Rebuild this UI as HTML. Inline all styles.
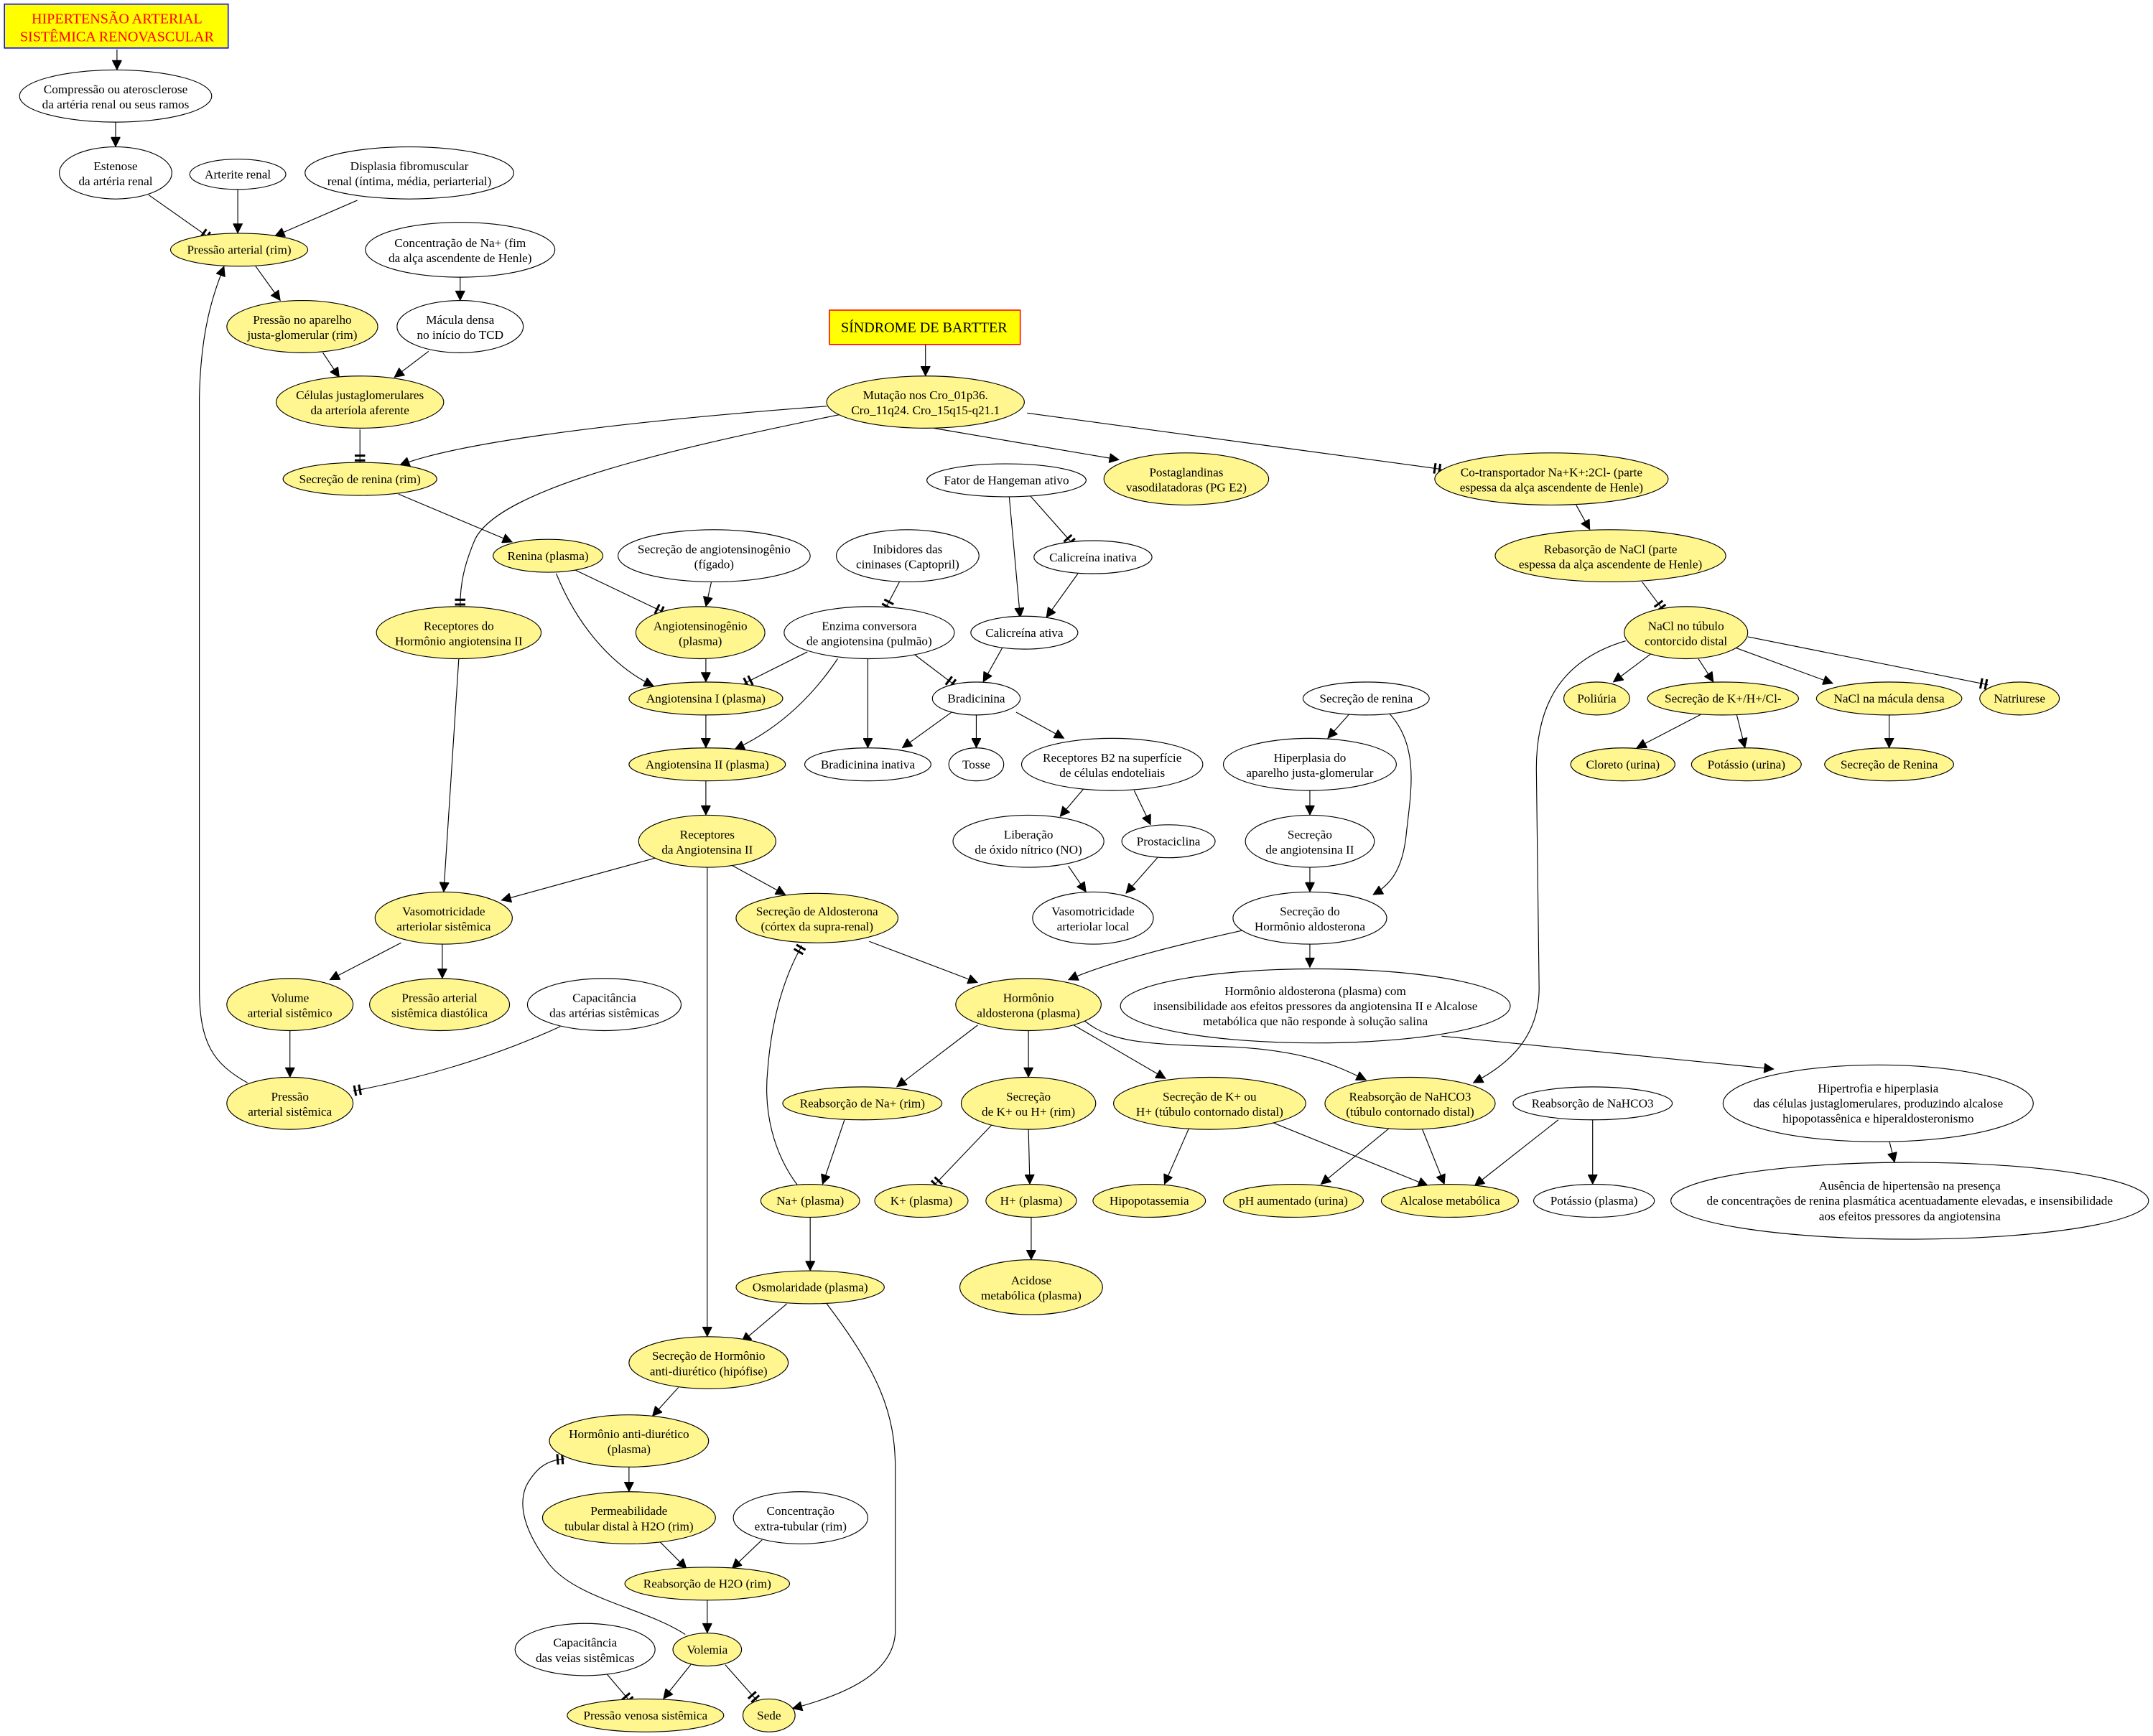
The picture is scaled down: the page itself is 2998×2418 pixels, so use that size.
<!DOCTYPE html>
<html><head><meta charset="utf-8"><style>
html,body{margin:0;padding:0;background:#fff}
svg{display:block}
text{font-family:"Liberation Serif",serif;font-size:9px;fill:#000;text-anchor:middle}
ellipse{stroke:#000;stroke-width:0.6}
.y{fill:#fff68f}.w{fill:#fff}
path{fill:none;stroke:#000;stroke-width:0.6}
</style></head><body>
<svg width="2998" height="2418" viewBox="0 0 1568 1265" xmlns="http://www.w3.org/2000/svg">
<defs>
<marker id="a" markerUnits="userSpaceOnUse" viewBox="0 0 10 10" refX="10" refY="5" markerWidth="9" markerHeight="7" orient="auto"><path d="M0,0 L10,5 L0,10 z" style="fill:#000;stroke:#000;stroke-width:0.5"/></marker>
<marker id="t" markerUnits="userSpaceOnUse" viewBox="-1 -5 8 10" refX="5" refY="0" markerWidth="8" markerHeight="10" orient="auto"><path d="M0,-3.8 L0,3.8 M3.5,-3.8 L3.5,3.8" style="stroke:#000;stroke-width:1.6"/></marker>
</defs>
<rect x="0" y="0" width="1568" height="1265" fill="#fff"/>
<!-- edges -->
<g>
<path marker-end="url(#a)" d="M85,36 L85,51"/>
<path marker-end="url(#a)" d="M84,89 L84,107"/>
<path marker-end="url(#t)" d="M108,142 L152,173"/>
<path marker-end="url(#a)" d="M173,138 L173,170"/>
<path marker-end="url(#a)" d="M260,146 L200,172"/>
<path marker-end="url(#a)" d="M186,194 L204,219"/>
<path marker-end="url(#a)" d="M335,202 L335,219"/>
<path marker-end="url(#a)" d="M235,257 L247,275"/>
<path marker-end="url(#a)" d="M312,256 L287,275"/>
<path marker-end="url(#t)" d="M262,313 L262,337"/>
<path marker-end="url(#a)" d="M290,360 L373,395"/>
<path marker-end="url(#a)" d="M602,296 C480,305 340,320 291,339"/>
<path marker-end="url(#t)" d="M612,302 C500,325 360,355 345,395 C338,412 335,425 335,442"/>
<path marker-end="url(#a)" d="M680,312 L815,335"/>
<path marker-end="url(#t)" d="M748,301 C850,315 950,328 1050,342"/>
<path marker-end="url(#t)" d="M418,415 L483,446"/>
<path marker-end="url(#a)" d="M405,418 C420,455 445,485 476,500"/>
<path marker-end="url(#a)" d="M518,424 L514,442"/>
<path marker-end="url(#t)" d="M655,424 L645,443"/>
<path marker-end="url(#t)" d="M750,361 L781,396"/>
<path marker-end="url(#a)" d="M735,362 L743,450"/>
<path marker-end="url(#a)" d="M785,418 L762,450"/>
<path marker-end="url(#a)" d="M514,480 L514,497"/>
<path marker-end="url(#t)" d="M588,475 L542,498"/>
<path marker-end="url(#a)" d="M610,480 C590,510 565,532 535,546"/>
<path marker-end="url(#a)" d="M632,480 L632,545"/>
<path marker-end="url(#t)" d="M666,477 L695,499"/>
<path marker-end="url(#a)" d="M730,472 L716,497"/>
<path marker-end="url(#a)" d="M514,521 L514,545"/>
<path marker-end="url(#a)" d="M693,519 L657,545"/>
<path marker-end="url(#a)" d="M711,521 L711,545"/>
<path marker-end="url(#a)" d="M740,519 L775,538"/>
<path marker-end="url(#a)" d="M789,575 L772,595"/>
<path marker-end="url(#a)" d="M826,576 L838,601"/>
<path marker-end="url(#a)" d="M778,631 L791,650"/>
<path marker-end="url(#a)" d="M843,625 L820,651"/>
<path marker-end="url(#a)" d="M983,520 L967,538"/>
<path marker-end="url(#a)" d="M1012,520 C1035,545 1027,580 1024,610 C1021,635 1012,645 1000,652"/>
<path marker-end="url(#a)" d="M954,576 L954,594"/>
<path marker-end="url(#a)" d="M954,632 L954,650"/>
<path marker-end="url(#a)" d="M905,678 C860,688 810,700 778,714"/>
<path marker-end="url(#a)" d="M954,688 L954,705"/>
<path marker-end="url(#a)" d="M1050,755 L1292,779"/>
<path marker-end="url(#a)" d="M514,569 L514,594"/>
<path marker-end="url(#a)" d="M334,480 L323,650"/>
<path marker-end="url(#a)" d="M478,625 L365,656"/>
<path marker-end="url(#a)" d="M532,630 L572,652"/>
<path marker-end="url(#a)" d="M515,632 L515,974"/>
<path marker-end="url(#a)" d="M292,687 L240,714"/>
<path marker-end="url(#a)" d="M322,688 L322,713"/>
<path marker-end="url(#a)" d="M211,751 L211,785"/>
<path marker-end="url(#t)" d="M408,748 C360,770 310,785 257,795"/>
<path marker-end="url(#a)" d="M180,789 C155,775 145,760 145,720 L145,290 C146,240 155,215 163,194"/>
<path marker-end="url(#a)" d="M633,686 L712,716"/>
<path marker-end="url(#a)" d="M712,747 L653,792"/>
<path marker-end="url(#a)" d="M749,751 L749,785"/>
<path marker-end="url(#a)" d="M782,747 L849,786"/>
<path marker-end="url(#a)" d="M790,744 C810,760 835,761 900,763 C950,766 970,775 995,787"/>
<path marker-end="url(#a)" d="M1184,467 C1140,480 1119,510 1119,560 L1121,720 C1121,755 1100,775 1073,789"/>
<path marker-end="url(#a)" d="M615,816 L599,863"/>
<path marker-end="url(#t)" d="M581,864 C563,840 556,810 559,780 C562,740 572,710 584,689"/>
<path marker-end="url(#a)" d="M590,887 L590,926"/>
<path marker-end="url(#t)" d="M722,820 L680,864"/>
<path marker-end="url(#a)" d="M749,823 L750,863"/>
<path marker-end="url(#a)" d="M866,822 L848,863"/>
<path marker-end="url(#a)" d="M922,816 L1040,864"/>
<path marker-end="url(#a)" d="M1012,822 L962,863"/>
<path marker-end="url(#a)" d="M1036,823 L1052,863"/>
<path marker-end="url(#a)" d="M1135,816 L1074,864"/>
<path marker-end="url(#a)" d="M1160,816 L1160,863"/>
<path marker-end="url(#a)" d="M1376,831 L1380,847"/>
<path marker-end="url(#a)" d="M751,887 L751,918"/>
<path marker-end="url(#a)" d="M573,950 L540,978"/>
<path marker-end="url(#a)" d="M602,950 C640,1000 652,1030 652,1070 L652,1190 C650,1220 615,1235 577,1245"/>
<path marker-end="url(#a)" d="M494,1011 L475,1032"/>
<path marker-end="url(#a)" d="M458,1069 L458,1087"/>
<path marker-end="url(#a)" d="M480,1123 L500,1143"/>
<path marker-end="url(#a)" d="M555,1122 L533,1143"/>
<path marker-end="url(#a)" d="M515,1166 L515,1190"/>
<path marker-end="url(#t)" d="M499,1191 C470,1172 420,1165 400,1140 C385,1120 376,1100 383,1083 C390,1070 398,1064 411,1063"/>
<path marker-end="url(#a)" d="M503,1213 L483,1238"/>
<path marker-end="url(#t)" d="M528,1213 L551,1239"/>
<path marker-end="url(#t)" d="M442,1220 L459,1240"/>
<path marker-end="url(#a)" d="M674,251 L674,274"/>
<path marker-end="url(#a)" d="M1148,368 L1158,386"/>
<path marker-end="url(#t)" d="M1196,424 L1211,444"/>
<path marker-end="url(#a)" d="M1203,476 L1175,497"/>
<path marker-end="url(#a)" d="M1237,480 L1248,497"/>
<path marker-end="url(#a)" d="M1264,472 L1335,498"/>
<path marker-end="url(#t)" d="M1273,464 L1448,499"/>
<path marker-end="url(#a)" d="M1240,520 L1192,545"/>
<path marker-end="url(#a)" d="M1265,521 L1271,545"/>
<path marker-end="url(#a)" d="M1376,521 L1376,545"/>
</g>
<!-- boxes -->
<rect x="3" y="3" width="163" height="32" fill="#ffff00" stroke="#0000ff" stroke-width="0.8"/>
<text x="85" y="17" style="fill:#ff0000;font-size:10.5px">HIPERTENSÃO ARTERIAL</text>
<text x="85" y="30" style="fill:#ff0000;font-size:10.5px">SISTÊMICA RENOVASCULAR</text>
<rect x="604" y="226" width="139" height="25" fill="#ffff00" stroke="#ff0000" stroke-width="0.8"/>
<text x="673" y="242" style="font-size:10.5px">SÍNDROME DE BARTTER</text>
<!-- nodes -->
<ellipse class="w" cx="84" cy="70" rx="70" ry="19"/><text x="84" y="68">Compressão ou aterosclerose</text><text x="84" y="79">da artéria renal ou seus ramos</text>
<ellipse class="w" cx="84" cy="126" rx="41" ry="19"/><text x="84" y="124">Estenose</text><text x="84" y="135">da artéria renal</text>
<ellipse class="w" cx="173" cy="127" rx="35" ry="11"/><text x="173" y="130">Arterite renal</text>
<ellipse class="w" cx="298" cy="126" rx="76" ry="19"/><text x="298" y="124">Displasia fibromuscular</text><text x="298" y="135">renal (íntima, média, periarterial)</text>
<ellipse class="y" cx="174" cy="182" rx="50" ry="12"/><text x="174" y="185">Pressão arterial (rim)</text>
<ellipse class="w" cx="335" cy="182" rx="69" ry="20"/><text x="335" y="180">Concentração de Na+ (fim</text><text x="335" y="191">da alça ascendente de Henle)</text>
<ellipse class="y" cx="220" cy="238" rx="55" ry="19"/><text x="220" y="236">Pressão no aparelho</text><text x="220" y="247">justa-glomerular (rim)</text>
<ellipse class="w" cx="335" cy="238" rx="46" ry="19"/><text x="335" y="236">Mácula densa</text><text x="335" y="247">no início do TCD</text>
<ellipse class="y" cx="262" cy="293" rx="61" ry="19"/><text x="262" y="291">Células justaglomerulares</text><text x="262" y="302">da arteríola aferente</text>
<ellipse class="y" cx="262" cy="349" rx="56" ry="12"/><text x="262" y="352">Secreção de renina (rim)</text>
<ellipse class="y" cx="399" cy="405" rx="40" ry="12"/><text x="399" y="408">Renina (plasma)</text>
<ellipse class="y" cx="674" cy="293" rx="72" ry="19"/><text x="674" y="291">Mutação nos Cro_01p36.</text><text x="674" y="302">Cro_11q24. Cro_15q15-q21.1</text>
<ellipse class="w" cx="733" cy="350" rx="58" ry="12"/><text x="733" y="353">Fator de Hangeman ativo</text>
<ellipse class="y" cx="864" cy="349" rx="60" ry="19"/><text x="864" y="347">Postaglandinas</text><text x="864" y="358">vasodilatadoras (PG E2)</text>
<ellipse class="w" cx="661" cy="405" rx="52" ry="19"/><text x="661" y="403">Inibidores das</text><text x="661" y="414">cininases (Captopril)</text>
<ellipse class="w" cx="796" cy="406" rx="43" ry="12"/><text x="796" y="409">Calicreína inativa</text>
<ellipse class="w" cx="633" cy="461" rx="62" ry="19"/><text x="633" y="459">Enzima conversora</text><text x="633" y="470">de angiotensina (pulmão)</text>
<ellipse class="w" cx="746" cy="461" rx="39" ry="12"/><text x="746" y="464">Calicreína ativa</text>
<ellipse class="w" cx="711" cy="509" rx="32" ry="12"/><text x="711" y="512">Bradicinina</text>
<ellipse class="w" cx="632" cy="557" rx="46" ry="12"/><text x="632" y="560">Bradicinina inativa</text>
<ellipse class="w" cx="711" cy="557" rx="20" ry="12"/><text x="711" y="560">Tosse</text>
<ellipse class="w" cx="810" cy="557" rx="66" ry="19"/><text x="810" y="555">Receptores B2 na superfície</text><text x="810" y="566">de células endoteliais</text>
<ellipse class="w" cx="995" cy="509" rx="46" ry="12"/><text x="995" y="512">Secreção de renina</text>
<ellipse class="w" cx="954" cy="557" rx="63" ry="19"/><text x="954" y="555">Hiperplasia do</text><text x="954" y="566">aparelho justa-glomerular</text>
<ellipse class="w" cx="749" cy="613" rx="55" ry="19"/><text x="749" y="611">Liberação</text><text x="749" y="622">de óxido nítrico (NO)</text>
<ellipse class="w" cx="851" cy="613" rx="34" ry="12"/><text x="851" y="616">Prostaciclina</text>
<ellipse class="w" cx="954" cy="613" rx="47" ry="19"/><text x="954" y="611">Secreção</text><text x="954" y="622">de angiotensina II</text>
<ellipse class="w" cx="796" cy="669" rx="44" ry="19"/><text x="796" y="667">Vasomotricidade</text><text x="796" y="678">arteriolar local</text>
<ellipse class="w" cx="954" cy="669" rx="56" ry="19"/><text x="954" y="667">Secreção do</text><text x="954" y="678">Hormônio aldosterona</text>
<ellipse class="y" cx="334" cy="461" rx="60" ry="19"/><text x="334" y="459">Receptores do</text><text x="334" y="470">Hormônio angiotensina II</text>
<ellipse class="w" cx="520" cy="405" rx="70" ry="19"/><text x="520" y="403">Secreção de angiotensinogênio</text><text x="520" y="414">(fígado)</text>
<ellipse class="y" cx="510" cy="461" rx="47" ry="19"/><text x="510" y="459">Angiotensinogênio</text><text x="510" y="470">(plasma)</text>
<ellipse class="y" cx="514" cy="509" rx="56" ry="12"/><text x="514" y="512">Angiotensina I (plasma)</text>
<ellipse class="y" cx="515" cy="557" rx="57" ry="12"/><text x="515" y="560">Angiotensina II (plasma)</text>
<ellipse class="y" cx="515" cy="613" rx="50" ry="19"/><text x="515" y="611">Receptores</text><text x="515" y="622">da Angiotensina II</text>
<ellipse class="y" cx="323" cy="669" rx="50" ry="19"/><text x="323" y="667">Vasomotricidade</text><text x="323" y="678">arteriolar sistêmica</text>
<ellipse class="y" cx="595" cy="669" rx="59" ry="18"/><text x="595" y="667">Secreção de Aldosterona</text><text x="595" y="678">(córtex da supra-renal)</text>
<ellipse class="y" cx="211" cy="732" rx="46" ry="19"/><text x="211" y="730">Volume</text><text x="211" y="741">arterial sistêmico</text>
<ellipse class="y" cx="320" cy="732" rx="51" ry="19"/><text x="320" y="730">Pressão arterial</text><text x="320" y="741">sistêmica diastólica</text>
<ellipse class="w" cx="440" cy="732" rx="56" ry="19"/><text x="440" y="730">Capacitância</text><text x="440" y="741">das artérias sistêmicas</text>
<ellipse class="y" cx="211" cy="804" rx="46" ry="19"/><text x="211" y="802">Pressão</text><text x="211" y="813">arterial sistêmica</text>
<ellipse class="y" cx="749" cy="732" rx="53" ry="19"/><text x="749" y="730">Hormônio</text><text x="749" y="741">aldosterona (plasma)</text>
<ellipse class="w" cx="958" cy="733" rx="142" ry="27"/><text x="958" y="725">Hormônio aldosterona (plasma) com</text><text x="958" y="736">insensibilidade aos efeitos pressores da angiotensina II e Alcalose</text><text x="958" y="747">metabólica que não responde à solução salina</text>
<ellipse class="y" cx="628" cy="804" rx="58" ry="12"/><text x="628" y="807">Reabsorção de Na+ (rim)</text>
<ellipse class="y" cx="749" cy="804" rx="49" ry="19"/><text x="749" y="802">Secreção</text><text x="749" y="813">de K+ ou H+ (rim)</text>
<ellipse class="y" cx="881" cy="804" rx="70" ry="19"/><text x="881" y="802">Secreção de K+ ou</text><text x="881" y="813">H+ (túbulo contornado distal)</text>
<ellipse class="y" cx="1027" cy="804" rx="62" ry="19"/><text x="1027" y="802">Reabsorção de NaHCO3</text><text x="1027" y="813">(túbulo contornado distal)</text>
<ellipse class="w" cx="1160" cy="804" rx="58" ry="12"/><text x="1160" y="807">Reabsorção de NaHCO3</text>
<ellipse class="w" cx="1368" cy="804" rx="113" ry="28"/><text x="1368" y="796">Hipertrofia e hiperplasia</text><text x="1368" y="807">das células justaglomerulares, produzindo alcalose</text><text x="1368" y="818">hipopotassênica e hiperaldosteronismo</text>
<ellipse class="w" cx="1391" cy="875" rx="174" ry="28"/><text x="1391" y="867">Ausência de hipertensão na presença</text><text x="1391" y="878">de concentrações de renina plasmática acentuadamente elevadas, e insensibilidade</text><text x="1391" y="889">aos efeitos pressores da angiotensina</text>
<ellipse class="y" cx="590" cy="875" rx="36" ry="12"/><text x="590" y="878">Na+ (plasma)</text>
<ellipse class="y" cx="671" cy="875" rx="34" ry="12"/><text x="671" y="878">K+ (plasma)</text>
<ellipse class="y" cx="751" cy="875" rx="33" ry="12"/><text x="751" y="878">H+ (plasma)</text>
<ellipse class="y" cx="837" cy="875" rx="41" ry="12"/><text x="837" y="878">Hipopotassemia</text>
<ellipse class="y" cx="942" cy="875" rx="51" ry="12"/><text x="942" y="878">pH aumentado (urina)</text>
<ellipse class="y" cx="1056" cy="875" rx="50" ry="12"/><text x="1056" y="878">Alcalose metabólica</text>
<ellipse class="w" cx="1161" cy="875" rx="44" ry="12"/><text x="1161" y="878">Potássio (plasma)</text>
<ellipse class="y" cx="590" cy="938" rx="54" ry="12"/><text x="590" y="941">Osmolaridade (plasma)</text>
<ellipse class="y" cx="751" cy="938" rx="52" ry="20"/><text x="751" y="936">Acidose</text><text x="751" y="947">metabólica (plasma)</text>
<ellipse class="y" cx="516" cy="993" rx="58" ry="19"/><text x="516" y="991">Secreção de Hormônio</text><text x="516" y="1002">anti-diurético (hipófise)</text>
<ellipse class="y" cx="458" cy="1050" rx="58" ry="19"/><text x="458" y="1048">Hormônio anti-diurético</text><text x="458" y="1059">(plasma)</text>
<ellipse class="y" cx="458" cy="1106" rx="63" ry="19"/><text x="458" y="1104">Permeabilidade</text><text x="458" y="1115">tubular distal à H2O (rim)</text>
<ellipse class="w" cx="583" cy="1106" rx="49" ry="19"/><text x="583" y="1104">Concentração</text><text x="583" y="1115">extra-tubular (rim)</text>
<ellipse class="y" cx="515" cy="1154" rx="60" ry="12"/><text x="515" y="1157">Reabsorção de H2O (rim)</text>
<ellipse class="y" cx="515" cy="1202" rx="25" ry="12"/><text x="515" y="1205">Volemia</text>
<ellipse class="w" cx="426" cy="1202" rx="51" ry="19"/><text x="426" y="1200">Capacitância</text><text x="426" y="1211">das veias sistêmicas</text>
<ellipse class="y" cx="470" cy="1250" rx="57" ry="12"/><text x="470" y="1253">Pressão venosa sistêmica</text>
<ellipse class="y" cx="560" cy="1250" rx="19" ry="12"/><text x="560" y="1253">Sede</text>
<ellipse class="y" cx="1130" cy="349" rx="85" ry="19"/><text x="1130" y="347">Co-transportador Na+K+:2Cl- (parte</text><text x="1130" y="358">espessa da alça ascendente de Henle)</text>
<ellipse class="y" cx="1173" cy="405" rx="84" ry="19"/><text x="1173" y="403">Rebasorção de NaCl (parte</text><text x="1173" y="414">espessa da alça ascendente de Henle)</text>
<ellipse class="y" cx="1228" cy="461" rx="45" ry="19"/><text x="1228" y="459">NaCl no túbulo</text><text x="1228" y="470">contorcido distal</text>
<ellipse class="y" cx="1163" cy="509" rx="24" ry="12"/><text x="1163" y="512">Poliúria</text>
<ellipse class="y" cx="1255" cy="509" rx="55" ry="12"/><text x="1255" y="512">Secreção de K+/H+/Cl-</text>
<ellipse class="y" cx="1376" cy="509" rx="53" ry="12"/><text x="1376" y="512">NaCl na mácula densa</text>
<ellipse class="y" cx="1471" cy="509" rx="29" ry="12"/><text x="1471" y="512">Natriurese</text>
<ellipse class="y" cx="1182" cy="557" rx="38" ry="12"/><text x="1182" y="560">Cloreto (urina)</text>
<ellipse class="y" cx="1272" cy="557" rx="40" ry="12"/><text x="1272" y="560">Potássio (urina)</text>
<ellipse class="y" cx="1376" cy="557" rx="47" ry="12"/><text x="1376" y="560">Secreção de Renina</text>
</svg>
</body></html>
